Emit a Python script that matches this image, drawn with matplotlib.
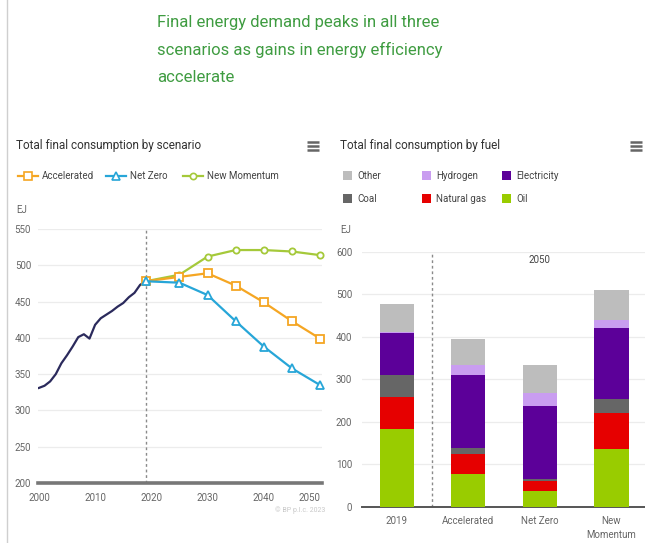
import matplotlib
matplotlib.use("Agg")
import matplotlib.pyplot as plt
from matplotlib.lines import Line2D
from matplotlib.patches import Rectangle

plt.rcParams['font.family'] = ['Roboto', 'DejaVu Sans']

# ---- data: total final consumption by scenario (EJ) ----
hist_years = list(range(2000, 2020))
hist_values = [331, 334, 340, 350, 365, 376, 388, 401, 405, 399,
               418, 427, 432, 437, 443, 448, 456, 462, 473, 478]

scen_years = [2019, 2025, 2030, 2035, 2040, 2045, 2050]
accelerated = [478, 484, 489, 472, 449, 423, 399]
net_zero = [478, 476, 459, 423, 388, 358, 335]
new_momentum = [478, 487, 512, 521, 521, 519, 514]

# ---- data: total final consumption by fuel (EJ) ----
fuel_categories = ["2019", "Accelerated", "Net Zero", "New\nMomentum"]
oil = [182, 76, 38, 136]
natural_gas = [77, 47, 22, 85]
coal = [51, 14, 6, 32]
electricity = [98, 173, 172, 168]
hydrogen = [3, 23, 30, 18]
other = [65, 62, 65, 71]

W, H = 645, 543
fig = plt.figure(figsize=(W / 100, H / 100), dpi=100)
fig.patch.set_facecolor("white")


def fx(px):
    return px / W


def fy(py):
    return 1 - py / H


def ftext(x, y, s, **kw):
    fig.text(fx(x), fy(y), s, **kw)


def fline(xs, ys, **kw):
    fig.add_artist(Line2D([fx(v) for v in xs], [fy(v) for v in ys],
                          transform=fig.transFigure, **kw))


def hamburger(x, y):
    for dy in (-4, 0, 4):
        fline([x, x + 12], [y + dy, y + dy], color="#666666", lw=1.8,
              solid_capstyle="butt")


# page frame line on the left
fline([7, 7], [0, 543], color="#cfcfcf", lw=1.0)

# headline
HEAD_COLOR = "#3f9c41"
for y, line in [(22, "Final energy demand peaks in all three"),
                (50, "scenarios as gains in energy efficiency"),
                (78, "accelerate")]:
    ftext(157, y, line, color=HEAD_COLOR, fontsize=12, va="center",
          ha="left")

TICK_COLOR = "#666666"
GRID_COLOR = "#ececec"

# ================= left chart: by scenario =================
c_acc, c_nz, c_nm, c_hist = "#f5a623", "#27a6d8", "#a5c93a", "#2b2a5c"

axL = fig.add_axes([fx(38), fy(483), fx(322) - fx(38), fy(229) - fy(483)])
axL.set_xlim(1999.84, 2050.36)
axL.set_ylim(200, 550)
axL.set_yticks(range(200, 551, 50))
axL.set_xticks(range(2000, 2051, 10))
axL.grid(axis="y", color=GRID_COLOR, lw=0.9)
axL.set_axisbelow(True)
for s in ("top", "right", "left"):
    axL.spines[s].set_visible(False)
axL.spines["bottom"].set_color("#777777")
axL.spines["bottom"].set_linewidth(2.6)
axL.tick_params(length=0, labelsize=7, labelcolor=TICK_COLOR)
axL.tick_params(axis="y", pad=5)
axL.tick_params(axis="x", pad=7)
axL.set_facecolor("none")
# keep the last year label inside the chart area
axL.get_xticklabels()[-1].set_horizontalalignment("right")

axL.axvline(2019, color="#8a8a8a", lw=1.0, ls=(0, (2, 2)), zorder=1)
axL.plot(hist_years, hist_values, color=c_hist, lw=1.6, zorder=3)
axL.plot(scen_years, new_momentum, color=c_nm, lw=1.6, marker="o",
         ms=4.5, mfc="white", mec=c_nm, mew=1.3, zorder=4, clip_on=False)
axL.plot(scen_years, accelerated, color=c_acc, lw=1.6, marker="s",
         ms=5.5, mfc="white", mec=c_acc, mew=1.3, zorder=5, clip_on=False)
axL.plot(scen_years, net_zero, color=c_nz, lw=1.6, marker="^",
         ms=6, mfc="white", mec=c_nz, mew=1.3, zorder=6, clip_on=False)

ftext(16, 145, "Total final consumption by scenario", fontsize=8.5,
      color="#333333", va="center")
hamburger(307, 146)

# legend for left chart
for (x0, label, col, mk, ms) in [(18, "Accelerated", c_acc, "s", 5.5),
                                 (106, "Net Zero", c_nz, "^", 6),
                                 (183, "New Momentum", c_nm, "o", 4.5)]:
    fig.add_artist(Line2D([fx(x0), fx(x0 + 20)], [fy(176), fy(176)],
                          transform=fig.transFigure, color=col, lw=1.6))
    fig.add_artist(Line2D([fx(x0 + 10)], [fy(176)], transform=fig.transFigure,
                          marker=mk, ms=ms, mfc="white", mec=col, mew=1.2,
                          ls="none"))
    ftext(x0 + 24, 176, label, fontsize=7, color="#444444", va="center")

ftext(16, 210, "EJ", fontsize=7, color=TICK_COLOR, va="center")
ftext(325, 510, "\u00a9 BP p.l.c. 2023", fontsize=5, color="#c8c8c8",
      va="center", ha="right")

# ================= right chart: by fuel =================
fuel_series = [("Oil", oil, "#99cc00"),
               ("Natural gas", natural_gas, "#e60000"),
               ("Coal", coal, "#666666"),
               ("Electricity", electricity, "#5c0099"),
               ("Hydrogen", hydrogen, "#c99df0"),
               ("Other", other, "#bdbdbd")]

axR = fig.add_axes([fx(362), fy(506.7), fx(645) - fx(362),
                    fy(251.7) - fy(506.7)])
axR.set_xlim(-0.485, 3.47)
axR.set_ylim(0, 600)
axR.set_yticks(range(0, 601, 100))
xs = list(range(len(fuel_categories)))
axR.set_xticks(xs)
axR.set_xticklabels(fuel_categories, linespacing=1.5)
axR.grid(axis="y", color=GRID_COLOR, lw=0.9)
axR.set_axisbelow(True)
for s in ("top", "right", "left"):
    axR.spines[s].set_visible(False)
axR.spines["bottom"].set_color("#555555")
axR.spines["bottom"].set_linewidth(1.4)
axR.tick_params(length=0, labelsize=7, labelcolor=TICK_COLOR)
axR.tick_params(axis="y", pad=7)
axR.tick_params(axis="x", pad=7)
axR.set_facecolor("none")

bottom = [0] * len(xs)
for name, vals, col in fuel_series:
    axR.bar(xs, vals, width=0.48, bottom=bottom, color=col, label=name,
            zorder=3)
    bottom = [b + v for b, v in zip(bottom, vals)]

axR.axvline(0.49, color="#8a8a8a", lw=1.0, ls=(0, (2, 2)), zorder=1)
axR.text(2.0, 580, "2050", fontsize=7, color="#444444", ha="center",
         va="center")

ftext(340, 145, "Total final consumption by fuel", fontsize=8.5,
      color="#333333", va="center")
hamburger(630, 146)

legend_pos = {"Other": (343, 176), "Hydrogen": (422, 176),
              "Electricity": (502, 176), "Coal": (343, 199),
              "Natural gas": (422, 199), "Oil": (502, 199)}
for name, vals, col in fuel_series:
    x0, y0 = legend_pos[name]
    fig.add_artist(Rectangle((fx(x0), fy(y0 + 4)), fx(9), 9 / H,
                             transform=fig.transFigure, facecolor=col,
                             edgecolor="none"))
    ftext(x0 + 14, y0, name, fontsize=7, color="#444444", va="center")

ftext(340, 230, "EJ", fontsize=7, color=TICK_COLOR, va="center")

fig.savefig("out.png", dpi=100, facecolor="white")
